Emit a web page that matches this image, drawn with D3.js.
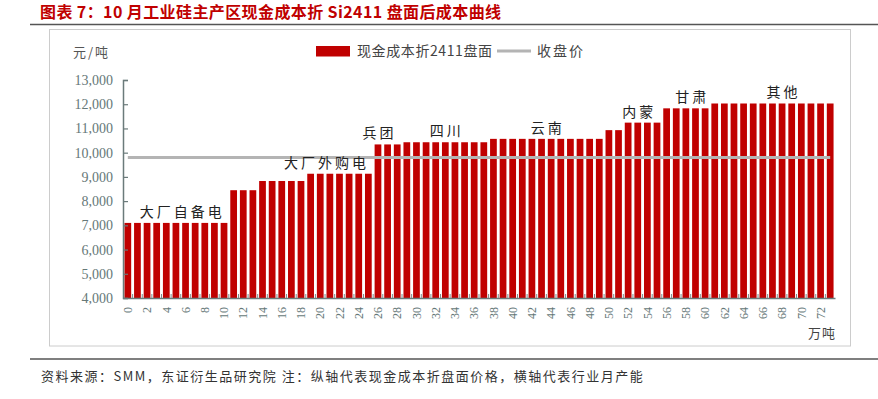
<!DOCTYPE html>
<html>
<head>
<meta charset="utf-8">
<script src="https://cdn.jsdelivr.net/npm/d3@7"></script>
<style>
  body { margin: 0; background: #fff; }
  svg { display: block; }
</style>
</head>
<body>
<script>
// 横轴：行业月产能（万吨），每根柱代表 1 万吨
var capacity = d3.range(0, 74);
// 现金成本折 Si2411 盘面（元/吨）
var cost = [
  7100, 7100, 7100, 7100, 7100, 7100, 7100, 7100, 7100, 7100, 7100,
  8450, 8450, 8450,
  8830, 8830, 8830, 8830, 8830,
  9130, 9130, 9130, 9130, 9130, 9130, 9130,
  10340, 10340, 10340,
  10430, 10430, 10430, 10430, 10430, 10430, 10430, 10430, 10430,
  10570, 10570, 10570, 10570, 10570, 10570, 10570, 10570, 10570, 10570, 10570, 10570,
  10930, 10930,
  11240, 11240, 11240, 11240,
  11830, 11830, 11830, 11830, 11830,
  12030, 12030, 12030, 12030, 12030, 12030, 12030, 12030, 12030, 12030, 12030, 12030, 12030
];
var closePrice = 9800;
var yTicks = [4000, 5000, 6000, 7000, 8000, 9000, 10000, 11000, 12000, 13000];
var xTicks = d3.range(0, 73, 2);
// 产区标注及其所在的产能位置
var regions = ["大厂自备电", "大厂外购电", "兵团", "四川", "云南", "内蒙", "甘肃", "其他"];
var regionAt = [5.5, 20.5, 26, 33, 43.5, 53, 58.5, 68];

var W = 878, H = 399;
var plot = { left: 123, right: 835, top: 80, bottom: 298 };
var serif = "'Liberation Serif', 'Times New Roman', serif";
var cjk = "'Noto Sans CJK SC', sans-serif";

var svg = d3.select("body").append("svg")
  .attr("width", W)
  .attr("height", H);

// 标题
svg.append("text")
  .attr("x", 40).attr("y", 18)
  .attr("font-family", cjk)
  .attr("font-size", 16)
  .attr("font-weight", "bold")
  .attr("letter-spacing", 0.4)
  .attr("fill", "#c00000")
  .text("图表 7：10 月工业硅主产区现金成本折 Si2411 盘面后成本曲线");

svg.append("line")
  .attr("x1", 30).attr("x2", W).attr("y1", 24.5).attr("y2", 24.5)
  .attr("stroke", "#555").attr("stroke-width", 1.5);

svg.append("rect")
  .attr("x", 49.5).attr("y", 29.5)
  .attr("width", 801).attr("height", 316.5)
  .attr("fill", "none").attr("stroke", "#cccccc");

svg.append("line")
  .attr("x1", 30).attr("x2", W).attr("y1", 359).attr("y2", 359)
  .attr("stroke", "#555").attr("stroke-width", 1.5);

svg.append("text")
  .attr("x", 41).attr("y", 381)
  .attr("font-family", cjk)
  .attr("font-size", 13)
  .attr("letter-spacing", 1.5)
  .attr("fill", "#333")
  .text("资料来源：SMM，东证衍生品研究院  注：纵轴代表现金成本折盘面价格，横轴代表行业月产能");

var x = d3.scaleBand()
  .domain(capacity)
  .range([plot.left, plot.right])
  .paddingInner(0.3)
  .paddingOuter(0.15);
var xc = function(i) { return plot.left + x.step() * (i + 0.5); };
var y = d3.scaleLinear().domain([4000, 13000]).range([plot.bottom, plot.top]);

var g = svg.append("g");

// 柱
g.selectAll("rect.bar").data(cost)
  .enter().append("rect")
  .attr("class", "bar")
  .attr("x", (d, i) => x(capacity[i]))
  .attr("y", d => y(d))
  .attr("width", x.bandwidth())
  .attr("height", d => plot.bottom - y(d))
  .attr("fill", "#c00000");

// 收盘价
var line = d3.line()
  .x((d, i) => xc(i))
  .y(d => y(d));
g.append("path")
  .attr("d", line(capacity.map(() => closePrice)))
  .attr("fill", "none")
  .attr("stroke", "#b4b4b4")
  .attr("stroke-width", 3);

// y 轴
var yAxis = g.append("g")
  .attr("transform", "translate(" + plot.left + ",0)")
  .call(d3.axisRight(y).tickValues(yTicks).tickSize(5).tickFormat(d3.format(",")));
yAxis.select(".domain").attr("stroke", "#6b7b7b").attr("stroke-width", 1.5);
yAxis.selectAll(".tick line").attr("stroke", "#6b7b7b").attr("stroke-width", 1.2);
yAxis.selectAll(".tick text")
  .attr("x", -10)
  .attr("text-anchor", "end")
  .attr("font-family", serif)
  .attr("font-size", 14)
  .attr("fill", "#667878");

// x 轴
var xAxis = g.append("g")
  .attr("transform", "translate(0," + plot.bottom + ")")
  .call(d3.axisBottom(x).tickValues(xTicks).tickSize(0).tickSizeOuter(0));
xAxis.select(".domain").attr("stroke", "#6b7b7b").attr("stroke-width", 1.5);
xAxis.selectAll(".tick text")
  .attr("transform", "rotate(-90)")
  .attr("x", -9).attr("y", 0).attr("dy", "0.35em")
  .attr("text-anchor", "end")
  .attr("font-family", serif)
  .attr("font-size", 12)
  .attr("fill", "#667878");
// 类别之间的刻度线
g.selectAll("line.xtick").data(capacity.slice(1))
  .enter().append("line")
  .attr("class", "xtick")
  .attr("x1", d => plot.left + x.step() * d).attr("x2", d => plot.left + x.step() * d)
  .attr("y1", plot.bottom).attr("y2", plot.bottom - 4)
  .attr("stroke", "#7a8a8a").attr("stroke-width", 1);

// 单位
svg.append("text")
  .attr("x", 73).attr("y", 57)
  .attr("font-family", cjk).attr("font-size", 13)
  .attr("letter-spacing", 2)
  .attr("fill", "#555")
  .text("元/吨");
svg.append("text")
  .attr("x", 836).attr("y", 338)
  .attr("text-anchor", "end")
  .attr("font-family", cjk).attr("font-size", 13)
  .attr("letter-spacing", 1)
  .attr("fill", "#444")
  .text("万吨");

// 产区标注
g.selectAll("text.region").data(regions)
  .enter().append("text")
  .attr("class", "region")
  .attr("x", (d, i) => xc(regionAt[i]) + 1.5)
  .attr("y", (d, i) => y(cost[Math.round(regionAt[i])]) - 6)
  .attr("text-anchor", "middle")
  .attr("font-family", cjk)
  .attr("font-size", 14)
  .attr("letter-spacing", 3)
  .attr("fill", "#222")
  .text(d => d);

// 图例
var lg = svg.append("g");
lg.append("rect")
  .attr("x", 316).attr("y", 46).attr("width", 34).attr("height", 10.5)
  .attr("fill", "#c00000");
lg.append("text")
  .attr("x", 357).attr("y", 56)
  .attr("font-family", cjk).attr("font-size", 14)
  .attr("letter-spacing", 0.6)
  .attr("fill", "#444")
  .text("现金成本折2411盘面");
lg.append("line")
  .attr("x1", 497).attr("x2", 531).attr("y1", 51).attr("y2", 51)
  .attr("stroke", "#b4b4b4").attr("stroke-width", 3);
lg.append("text")
  .attr("x", 537).attr("y", 56)
  .attr("font-family", cjk).attr("font-size", 14)
  .attr("letter-spacing", 2)
  .attr("fill", "#444")
  .text("收盘价");
</script>
</body>
</html>
